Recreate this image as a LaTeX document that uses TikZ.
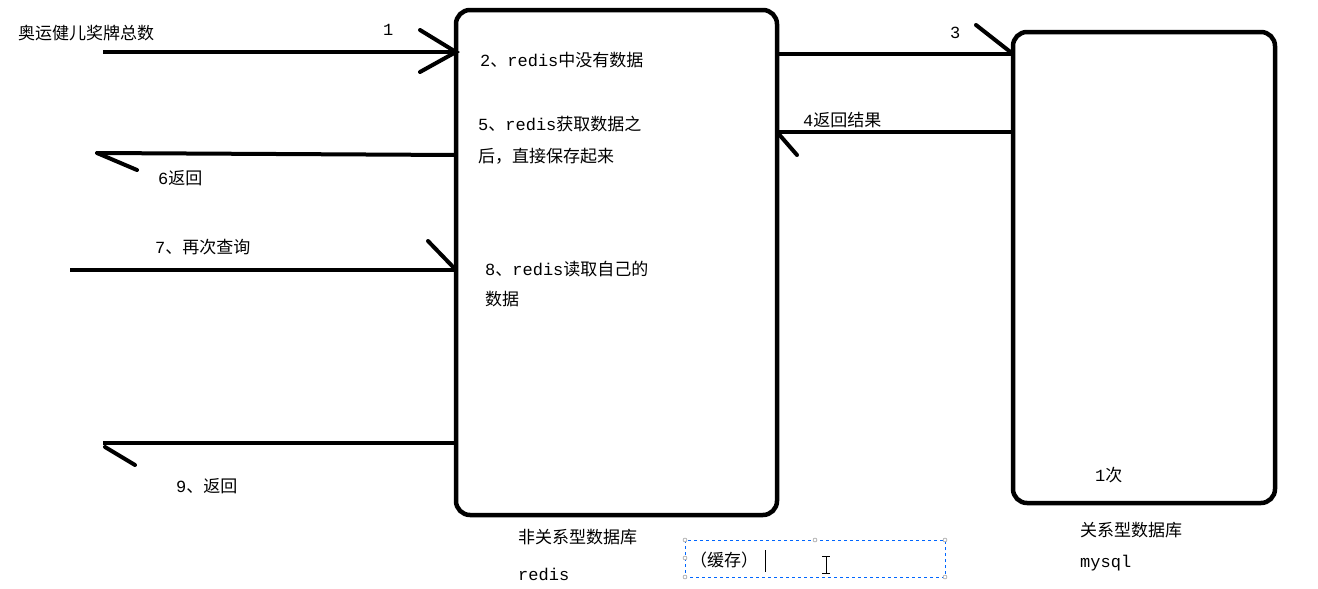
\documentclass[tikz,border=0pt]{standalone}
\usepackage{fontspec}
\setmainfont{Liberation Mono}
\newfontfamily\cjk{Noto Sans CJK SC}
\newcommand{\zh}[1]{{\cjk #1}}
\begin{document}
\begin{tikzpicture}[x=1pt,y=-1pt,
  box/.style={line width=4.5pt,rounded corners=14pt},
  ln/.style={line width=4pt},
  bar/.style={line width=4pt,line cap=round},
  lbl/.style={anchor=west,inner sep=0pt,font=\fontsize{17}{21}\selectfont,align=left}]
\useasboundingbox (0,0) rectangle (1318,589);
\draw[box] (456,10) rectangle (777,515);
\draw[box] (1013,32) rectangle (1275,503);
\coordinate (a1s) at (103,52); \coordinate (a1e) at (456,52);
\draw[ln] (a1s) -- (a1e);
\draw[bar] (420,30) -- (a1e) -- (420,72);
\coordinate (a3s) at (777,54); \coordinate (a3e) at (1013,54);
\draw[ln] (a3s) -- (a3e);
\draw[bar] (976,25) -- (a3e);
\coordinate (a4s) at (1013,132); \coordinate (a4e) at (777,132);
\draw[ln] (a4s) -- (a4e);
\draw[bar] (a4e) -- (797,155);
\coordinate (a6s) at (456,155); \coordinate (a6e) at (97,153);
\draw[ln] (a6s) -- (a6e);
\draw[bar] (a6e) -- (137,170);
\coordinate (a7s) at (70,270); \coordinate (a7e) at (456,270);
\draw[ln] (a7s) -- (a7e);
\draw[bar] (428,241) -- (a7e);
\coordinate (a9s) at (456,443); \coordinate (a9e) at (103,443);
\draw[ln] (a9s) -- (a9e);
\draw[bar] (105,447) -- (135,465);
\node[lbl] (t0) at (18,33) {\zh{奥运健儿奖牌总数}};
\node[lbl] (t1) at (383,30) {1};
\node[lbl] (t3) at (950,33) {3};
\node[lbl] (t4) at (803,120) {4\zh{返回结果}};
\node[lbl] (t6) at (158,178) {6\zh{返回}};
\node[lbl] (t7) at (155,247) {7\zh{、再次查询}};
\node[lbl] (t9) at (176,486) {9\zh{、返回}};
\node[lbl] (t2) at (480,60) {2\zh{、}redis\zh{中没有数据}};
\node[lbl] (t5) at (478,124) {5\zh{、}redis\zh{获取数据之}};
\node[lbl] (t5b) at (478,156) {\zh{后，直接保存起来}};
\node[lbl] (t8) at (485,269) {8\zh{、}redis\zh{读取自己的}};
\node[lbl] (t8b) at (485,299) {\zh{数据}};
\node[lbl] (tc) at (1095,475) {1\zh{次}};
\node[lbl] (r1) at (518,537) {\zh{非关系型数据库}};
\node[lbl] (r2) at (518,574) {redis};
\node[lbl] (m1) at (1080,530) {\zh{关系型数据库}};
\node[lbl] (m2) at (1080,563) {mysql};
\draw[blue!60!cyan,dashed,thin] (685,540) rectangle (945,577);
\foreach \p in {(685,540),(815,540),(945,540),(685,577),(945,577),(685,558)}
  \draw[gray,fill=white,thin] \p circle (2);
\node[lbl] (cache) at (690,560) {\zh{（缓存）}};
\draw[thin] (765,550) -- (765,572);
\draw[line width=0.8pt] (826,556) -- (826,573) (822,556) -- (830,556) (822,573) -- (830,573);
\end{tikzpicture}
\end{document}
